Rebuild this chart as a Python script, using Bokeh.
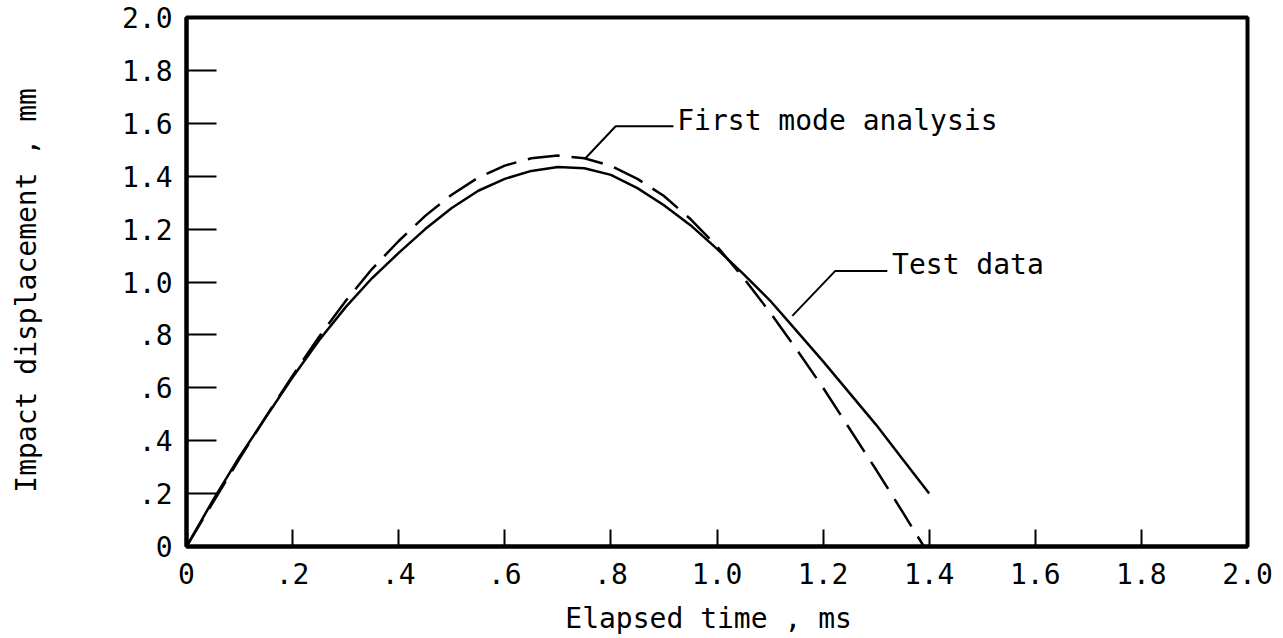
from bokeh.plotting import figure
from bokeh.models import Range1d, FixedTicker, Label
from bokeh.embed import file_html
from bokeh.resources import INLINE

# ---- data ----
t_test = [0.0, 0.05, 0.10, 0.15, 0.20, 0.25, 0.30, 0.35, 0.40, 0.45, 0.50, 0.55,
          0.60, 0.65, 0.70, 0.75, 0.80, 0.85, 0.90, 0.95, 1.00, 1.05, 1.10, 1.15,
          1.20, 1.25, 1.30, 1.35, 1.40]
d_test = [0.0, 0.175, 0.34, 0.49, 0.64, 0.78, 0.905, 1.015, 1.11, 1.20, 1.28, 1.345,
          1.39, 1.42, 1.435, 1.43, 1.405, 1.355, 1.29, 1.215, 1.125, 1.03, 0.93, 0.815,
          0.70, 0.58, 0.46, 0.33, 0.20]

t_mode = [0.0, 0.05, 0.10, 0.15, 0.20, 0.25, 0.30, 0.35, 0.40, 0.45, 0.50, 0.55,
          0.60, 0.65, 0.70, 0.75, 0.80, 0.85, 0.90, 0.95, 1.00, 1.05, 1.10, 1.15,
          1.20, 1.25, 1.30, 1.35, 1.39]
d_mode = [0.0, 0.167, 0.332, 0.492, 0.646, 0.793, 0.928, 1.05, 1.155, 1.25, 1.33, 1.395,
          1.44, 1.468, 1.478, 1.468, 1.439, 1.39, 1.325, 1.238, 1.135, 1.015, 0.885, 0.745,
          0.60, 0.445, 0.29, 0.13, 0.0]

ticks = [0.0, 0.2, 0.4, 0.6, 0.8, 1.0, 1.2, 1.4, 1.6, 1.8, 2.0]
tick_labels = ["0", ".2", ".4", ".6", ".8", "1.0", "1.2", "1.4", "1.6", "1.8", "2.0"]

x_title = "Elapsed time , ms"
y_title = "Impact displacement , mm"

mode_label = "First mode analysis"
mode_leader_x = [0.752, 0.809, 0.918]
mode_leader_y = [1.468, 1.589, 1.589]
mode_label_pos = (0.925, 1.612)

test_label = "Test data"
test_leader_x = [1.142, 1.223, 1.321]
test_leader_y = [0.872, 1.042, 1.042]
test_label_pos = (1.330, 1.065)

FONT = "DejaVu Sans Mono"
NBSP = "\u00a0"

p = figure(width=1275, height=637, output_backend="svg", toolbar_location=None,
           x_range=Range1d(0, 2.0), y_range=Range1d(0, 2.0),
           min_border_left=186, min_border_right=28, min_border_top=17, min_border_bottom=90)

p.background_fill_color = "white"
p.border_fill_color = "white"
p.outline_line_color = "black"
p.outline_line_width = 4
p.xgrid.visible = False
p.ygrid.visible = False

for ax, tin in ((p.xaxis, 17), (p.yaxis, 30)):
    ax.ticker = FixedTicker(ticks=ticks)
    ax.major_label_overrides = {t: l for t, l in zip(ticks, tick_labels)}
    ax.minor_tick_line_color = None
    ax.major_tick_in = tin
    ax.major_tick_out = 0
    ax.major_tick_line_width = 2
    ax.major_tick_line_color = "black"
    ax.axis_line_color = "black"
    ax.axis_line_width = 4
    ax.major_label_text_font = FONT
    ax.major_label_text_font_size = "28px"
    ax.major_label_text_color = "black"
    ax.axis_label_text_font = FONT
    ax.axis_label_text_font_size = "28px"
    ax.axis_label_text_font_style = "normal"
    ax.axis_label_text_color = "black"

# a trailing non-breaking space nudges each title slightly, as in the reference
p.xaxis.axis_label = x_title + NBSP
p.yaxis.axis_label = y_title + NBSP
p.xaxis.major_label_standoff = 16
p.yaxis.major_label_standoff = 14
p.xaxis.axis_label_standoff = 15
p.yaxis.axis_label_standoff = 76

p.line(t_test, d_test, line_color="black", line_width=2.5)
p.line(t_mode, d_mode, line_color="black", line_width=2.5, line_dash="32 12")

p.line(mode_leader_x, mode_leader_y, line_color="black", line_width=2)
p.line(test_leader_x, test_leader_y, line_color="black", line_width=2)

for txt, (lx, ly) in ((mode_label, mode_label_pos), (test_label, test_label_pos)):
    p.add_layout(Label(x=lx, y=ly, text=txt, text_font=FONT, text_font_size="28px",
                       text_align="left", text_baseline="middle", text_color="black"))

open("out.html", "w").write(file_html(p, INLINE))
